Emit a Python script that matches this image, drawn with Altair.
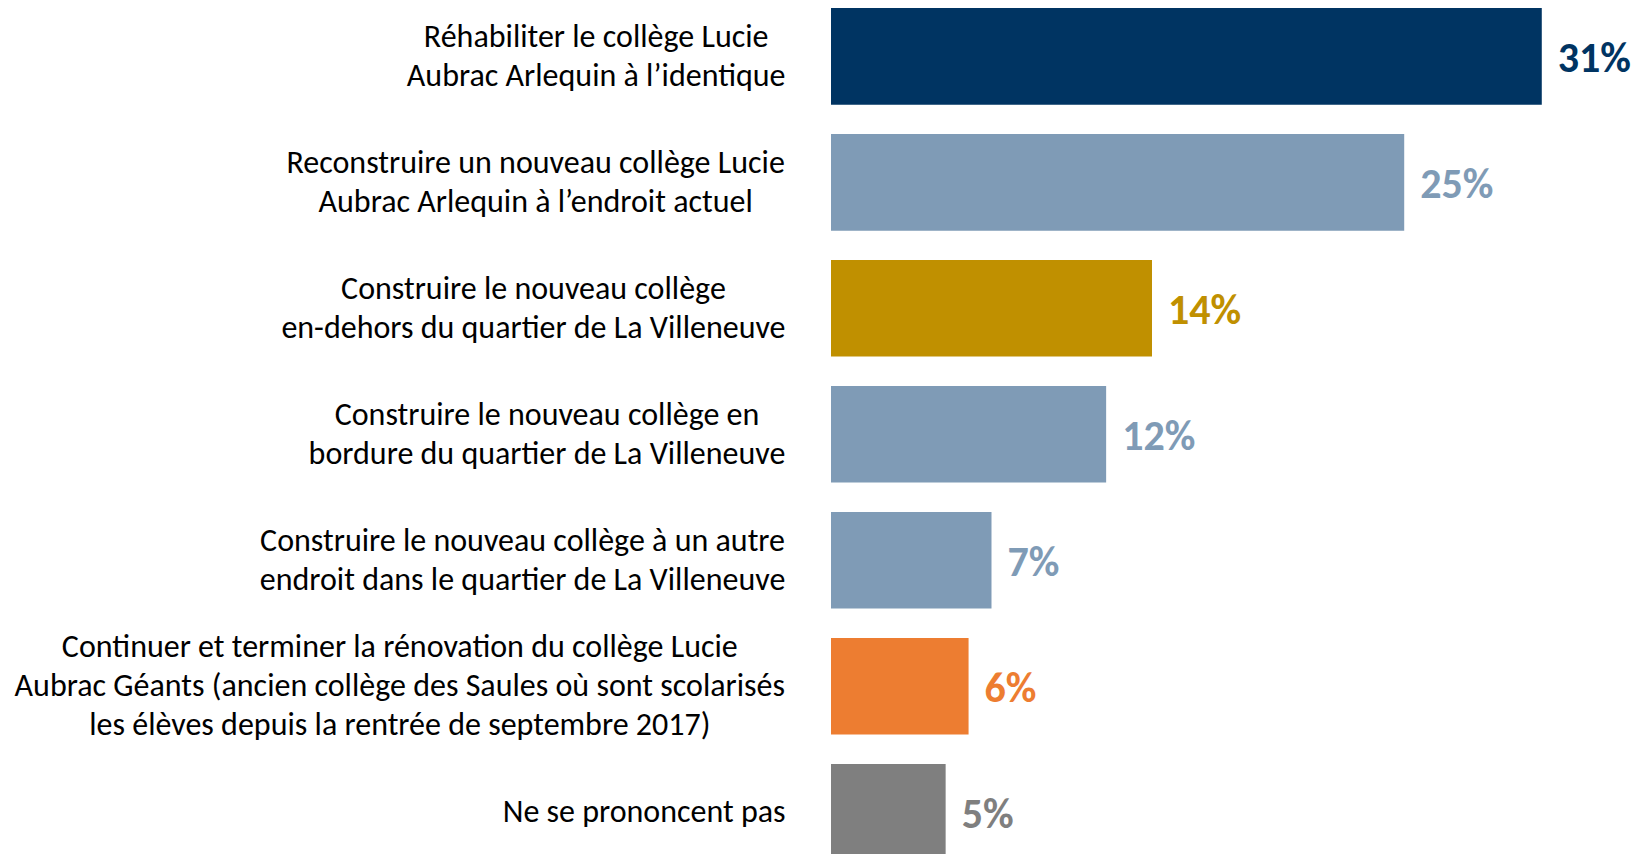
import altair as alt
import pandas as pd

labels = [
    "Réhabiliter le collège Lucie\nAubrac Arlequin à l’identique",
    "Reconstruire un nouveau collège Lucie\nAubrac Arlequin à l’endroit actuel",
    "Construire le nouveau collège\nen-dehors du quartier de La Villeneuve",
    "Construire le nouveau collège en\nbordure du quartier de La Villeneuve",
    "Construire le nouveau collège à un autre\nendroit dans le quartier de La Villeneuve",
    "Continuer et terminer la rénovation du collège Lucie\nAubrac Géants (ancien collège des Saules où sont scolarisés\nles élèves depuis la rentrée de septembre 2017)",
    "Ne se prononcent pas",
]
values = [31, 25, 14, 12, 7, 6, 5]
colors = ["#003462", "#7F9BB6", "#C09000", "#7F9BB6", "#7F9BB6", "#ED7D31", "#7F7F7F"]

FONT = "Carlito, Calibri, Lato, sans-serif"
LABEL_SIZE = 32
LINE_H = 39

# approximate Calibri advance widths (per 1000 em) used to centre each text block
W = {" ": 226, "a": 479, "b": 525, "c": 423, "d": 525, "e": 498, "f": 305, "g": 471,
     "h": 525, "i": 229, "j": 239, "k": 455, "l": 229, "m": 799, "n": 525, "o": 527,
     "p": 525, "q": 525, "r": 349, "s": 391, "t": 335, "u": 525, "v": 452, "w": 715,
     "x": 433, "y": 453, "z": 395, "A": 579, "B": 544, "C": 533, "D": 615, "E": 488,
     "G": 631, "L": 420, "N": 646, "R": 543, "S": 459, "V": 567, "(": 303, ")": 303,
     "-": 306, "’": 250, "é": 498, "è": 498, "à": 479, "ù": 525, "ò": 527}


def text_width(s):
    return max(sum(W.get(ch, 507) for ch in line) for line in s.split("\n")) * LABEL_SIZE / 1000


df = pd.DataFrame({
    "label": labels,
    "value": values,
    "color": colors,
    "tw": [text_width(s) for s in labels],
    "nlines": [s.count("\n") + 1 for s in labels],
})

LEFT_W = 823
RIGHT_W = 808
H = 846

yscale = alt.Scale(type="band", domain=labels, range=[0, 852.6], paddingInner=0.233, paddingOuter=0)
y = alt.Y("label:N", sort=None, scale=yscale, axis=None)


def label_layer(n):
    return (
        alt.Chart(df)
        .transform_filter(f"datum.nlines == {n}")
        .transform_calculate(cx=f"{LEFT_W - 45} - datum.tw / 2")
        .mark_text(align="center", baseline="middle", lineBreak="\n", lineHeight=LINE_H,
                   dy=-(n - 1) * LINE_H / 2, font=FONT, fontSize=LABEL_SIZE, color="#000000")
        .encode(x=alt.X("cx:Q", scale=None), y=y, text="label:N")
    )


left = alt.layer(label_layer(1), label_layer(2), label_layer(3)).properties(width=LEFT_W, height=H)

xscale = alt.Scale(domain=[0, 35.24], nice=False, zero=True)
bars = (
    alt.Chart(df)
    .mark_bar(clip=True)
    .encode(x=alt.X("value:Q", scale=xscale, axis=None), y=y,
            color=alt.Color("color:N", scale=None))
)
vals = (
    alt.Chart(df)
    .transform_calculate(txt="datum.value + '%'")
    .mark_text(align="left", baseline="middle", dx=16, dy=3, font=FONT,
               fontSize=42, fontWeight="bold")
    .encode(x=alt.X("value:Q", scale=xscale, axis=None), y=y,
            text="txt:N", color=alt.Color("color:N", scale=None))
)
right = alt.layer(bars, vals).properties(width=RIGHT_W, height=H)

chart = (
    alt.hconcat(left, right, spacing=0)
    .properties(padding=0, background="#ffffff")
    .configure_view(stroke=None)
)

chart.save("out.html", embed_options={"renderer": "svg", "actions": False})
